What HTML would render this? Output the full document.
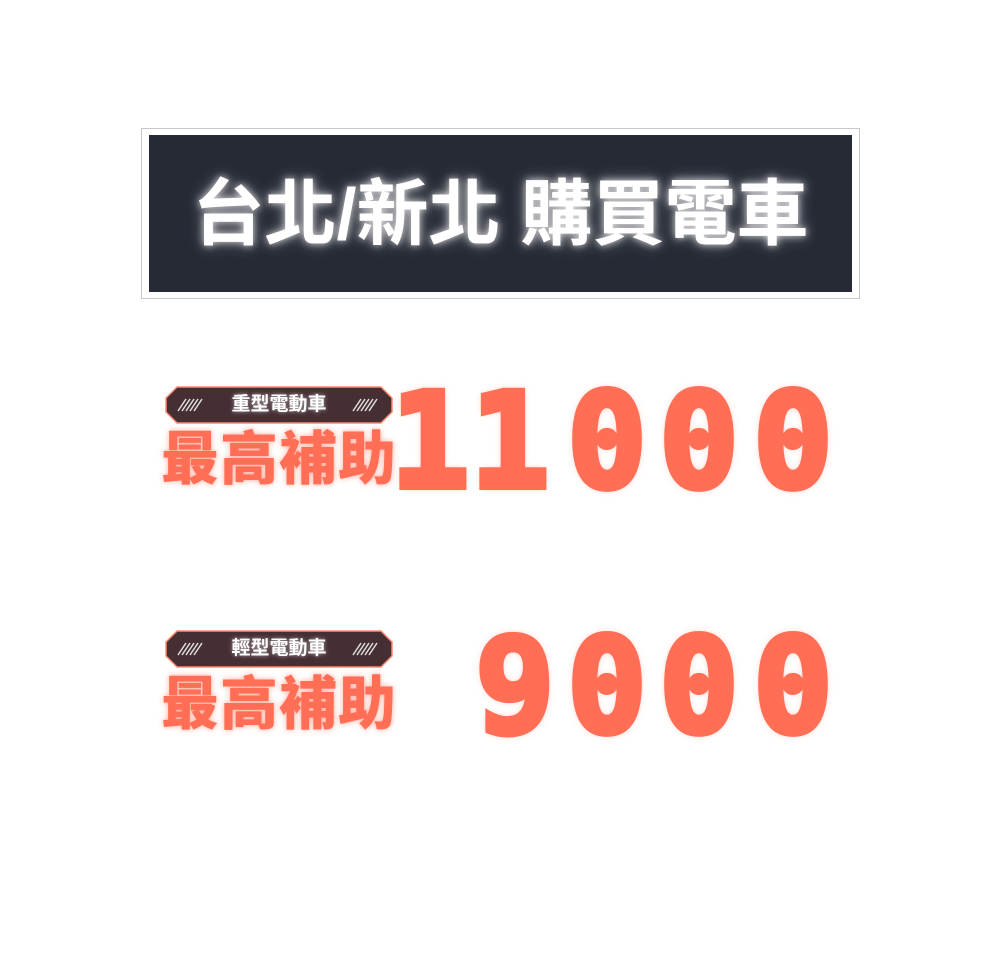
<!DOCTYPE html>
<html><head><meta charset="utf-8"><style>
body{margin:0;width:1000px;height:960px;background:#fff;position:relative;overflow:hidden;font-family:"Liberation Sans","Noto Sans CJK TC",sans-serif}
.a{position:absolute}
.frame{left:141px;top:128px;width:717px;height:169px;border:1px solid #c8c8c8}
.box{left:149px;top:135px;width:703px;height:157px;background:#262a35}
.title{left:149px;top:175px;width:703px;text-align:center;color:#fff;font-size:72px;font-weight:bold;line-height:80px;text-shadow:0 0 8px rgba(255,255,255,.8),0 0 16px rgba(255,255,255,.4);white-space:nowrap}
.badge{width:228px;height:38px}
.btxt{color:#fff;font-size:19px;font-weight:bold;text-align:center;line-height:38px;width:228px;text-shadow:0 0 4px rgba(255,255,255,.6)}
.big{color:#ff6e55;font-size:58px;font-weight:900;line-height:64px;text-shadow:0 0 6px rgba(255,110,85,.6);white-space:nowrap;letter-spacing:1px}
.d{color:#ff6e55;font-family:"DejaVu Sans Mono",monospace;font-weight:bold;font-size:132px;line-height:132px;width:100px;text-align:center;text-shadow:0 0 8px rgba(255,110,85,.6);-webkit-text-stroke:6px #ff6e55}
</style></head><body>
<div class="a frame"></div>
<div class="a box"></div>
<div class="a title">台北/新北 購買電車</div>

<svg class="a badge" style="left:165px;top:386px" viewBox="0 0 228 38"><polygon points="12,1 216,1 227,12 227,26 216,37 12,37 1,26 1,12" fill="#452f33" stroke="#ff8a70" stroke-width="1.5"/><g stroke="#ddd" stroke-width="1.5"><path d="M13 25l8-12M17 25l8-12M21 25l8-12M25 25l8-12M29 25l8-12"/><path d="M188 25l8-12M192 25l8-12M196 25l8-12M200 25l8-12M204 25l8-12"/></g></svg>
<div class="a btxt" style="left:165px;top:386px">重型電動車</div>
<div class="a big" style="left:161px;top:428px">最高補助</div>
<div class="a d" style="left:380px;top:376px">1</div>
<div class="a d" style="left:460px;top:376px">1</div>
<div class="a d" style="left:557px;top:376px">0</div>
<div class="a d" style="left:649px;top:376px">0</div>
<div class="a d" style="left:743px;top:376px">0</div>

<svg class="a badge" style="left:165px;top:630px" viewBox="0 0 228 38"><polygon points="12,1 216,1 227,12 227,26 216,37 12,37 1,26 1,12" fill="#452f33" stroke="#ff8a70" stroke-width="1.5"/><g stroke="#ddd" stroke-width="1.5"><path d="M13 25l8-12M17 25l8-12M21 25l8-12M25 25l8-12M29 25l8-12"/><path d="M188 25l8-12M192 25l8-12M196 25l8-12M200 25l8-12M204 25l8-12"/></g></svg>
<div class="a btxt" style="left:165px;top:630px">輕型電動車</div>
<div class="a big" style="left:161px;top:673px">最高補助</div>
<div class="a d" style="left:465px;top:621px">9</div>
<div class="a d" style="left:557px;top:621px">0</div>
<div class="a d" style="left:649px;top:621px">0</div>
<div class="a d" style="left:743px;top:621px">0</div>
</body></html>
